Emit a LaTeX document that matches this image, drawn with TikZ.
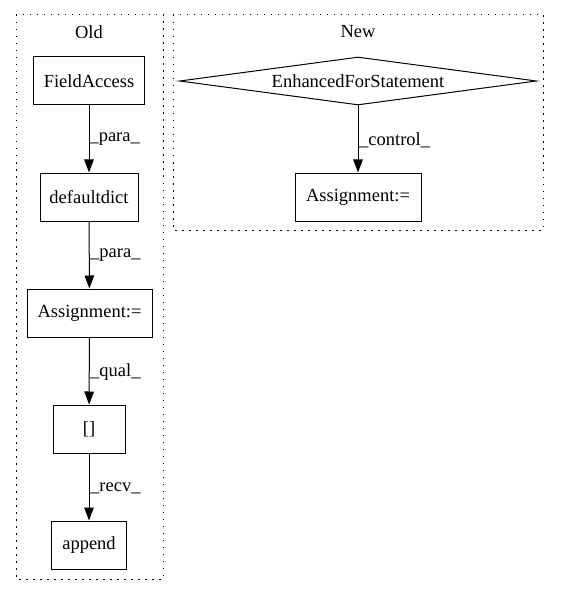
\documentclass[tikz,border=0pt]{standalone}
\usepackage{fontspec}
\setmainfont{Liberation Serif}
\usetikzlibrary{arrows.meta,shapes.geometric}
\begin{document}
\begin{tikzpicture}[x=1pt,y=-1pt,
  every node/.style={font=\fontsize{18.5}{22}\selectfont},
  box/.style={draw,line width=1pt,rectangle,inner sep=0pt},
  cluster/.style={draw,line width=1pt,dash pattern=on 1.5pt off 5.5pt},
  edge/.style={line width=1pt,-{Triangle[length=13pt,width=9.5pt]}},
  elabel/.style={anchor=west,inner sep=0pt}]
\useasboundingbox (0,0) rectangle (560,596);
\draw[cluster] (16,15) rectangle (163,579);
\draw[cluster] (173,15) rectangle (543,230);
\node (oldlbl) at (89,32) {Old};
\node (newlbl) at (358,32) {New};
\node[box,minimum width=111pt,minimum height=48pt] (fa) at (89,81) {FieldAccess};
\node[box,minimum width=98pt,minimum height=48pt] (dd) at (89,197) {defaultdict};
\node[box,minimum width=125pt,minimum height=48pt] (as1) at (89.5,313) {Assignment:=};
\node[box,minimum width=72pt,minimum height=48pt] (br) at (89,429) {[]};
\node[box,minimum width=75pt,minimum height=48pt] (ap) at (89,545) {append};
\node[diamond,draw,line width=1pt,aspect=7.4,inner sep=0pt,minimum width=357pt,minimum height=48pt] (efs) at (358,81) {EnhancedForStatement};
\node[box,minimum width=126pt,minimum height=48pt] (as2) at (358,197) {Assignment:=};
\draw[edge] (fa) -- (dd) node[elabel,pos=0.5] at (90,140) {\_para\_};
\draw[edge] (dd) -- (as1);
\node[elabel] (l2) at (90,255) {\_para\_};
\draw[edge] (as1) -- (br);
\node[elabel] (l3) at (90,372) {\_qual\_};
\draw[edge] (br) -- (ap);
\node[elabel] (l4) at (90,488) {\_recv\_};
\draw[edge] (efs.south) -- (as2);
\node[elabel] (l5) at (359,140) {\_control\_};
\end{tikzpicture}
\end{document}
